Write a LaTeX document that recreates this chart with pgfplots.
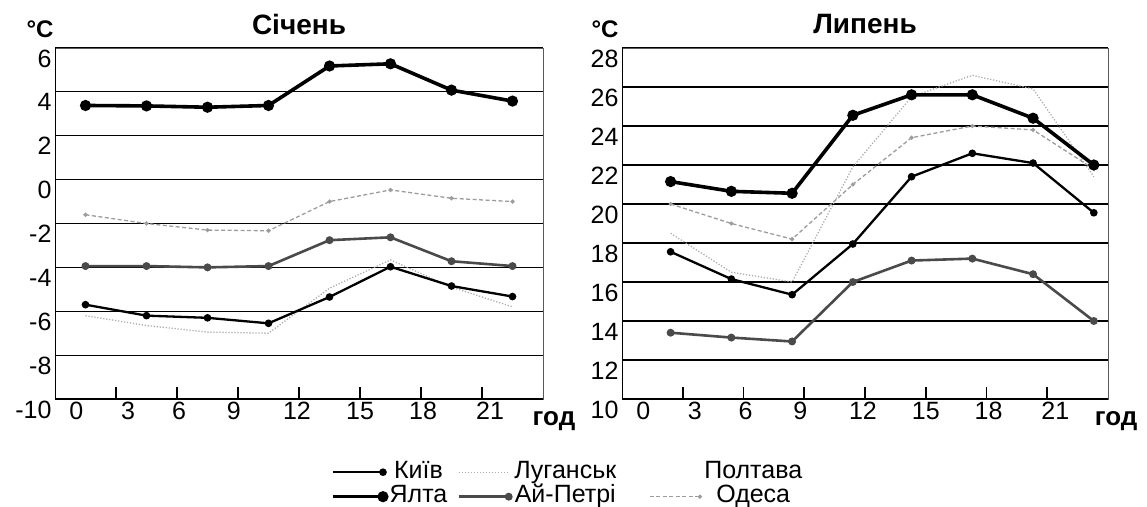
\documentclass[border=0pt]{standalone}
\usepackage{pgfplots}
\pgfplotsset{compat=1.18}
\usepackage{fontspec}
\setmainfont{Liberation Sans}

\definecolor{apgray}{HTML}{4A4A4A}
\definecolor{lugray}{HTML}{ABABAB}
\definecolor{odgray}{HTML}{9C9C9C}

\pgfplotsset{
  kyiv/.style={black, line width=2.3pt, mark=*, mark size=2.6pt},
  yalta/.style={black, line width=3.6pt, mark=*, mark size=3.7pt},
  aipetri/.style={apgray, line width=2.6pt, mark=*, mark size=2.6pt},
  luhansk/.style={lugray, line width=1.3pt, dash pattern=on 1.2pt off 1.8pt},
  odesa/.style={odgray, line width=1.3pt, dash pattern=on 4pt off 2.5pt, mark=*, mark size=1.4pt, mark options={solid}},
  panel/.style={
    scale only axis, height=351pt,
    xmin=0, xmax=24,
    axis line style={black!65, line width=0.9pt},
    ymajorgrids, grid style={black, line width=1.1pt},
    xtick={1.05,3.6,6.1,8.8,11.9,15.0,18.1,21.4},
    xticklabels={0,3,6,9,12,15,18,21},
    major tick length=0pt,
    xtick pos=left, ytick pos=left,
    extra x ticks={3,6,9,12,15,18,21},
    extra x tick labels={},
    extra x tick style={major tick length=12pt, tick align=inside,
      tick style={black, line width=1.6pt}},
    tick label style={font=\fontsize{25}{25}\selectfont},
    yticklabel style={yshift=-10.5pt},
  },
}

\begin{document}
\begin{tikzpicture}[x=1pt,y=1pt]
\path[use as bounding box] (0pt,0pt) rectangle (1147pt,-506pt);

% January
\begin{axis}[panel, at={(55pt,-399pt)}, anchor=south west, width=488pt,
  ymin=-10, ymax=6, ytick={-10,-8,...,6},
  yticklabels={-10,-8,-6,-4,-2,0,2,4,6},
  legend columns=3,
  legend image code/.code={\draw[mark repeat=2,mark phase=2,#1] plot coordinates {(0pt,0pt) (50pt,0pt)};},
  legend style={at={(0.5594,-0.1709)}, anchor=north west, draw=none, fill=none,
    font=\fontsize{25}{25}\selectfont, row sep=2.5pt,
    nodes={inner ysep=0pt, inner xsep=3pt, text height=17pt, text depth=5pt},
    /tikz/column 2/.style={column sep=7pt},
    /tikz/column 4/.style={column sep=30pt}},
]
\addplot[luhansk, forget plot] coordinates {(1.5,-6.2)(4.5,-6.65)(7.5,-6.95)(10.5,-7.0)(13.5,-4.95)(16.5,-3.66)(19.5,-4.9)(22.5,-5.8)};
\addplot[odesa, forget plot] coordinates {(1.5,-1.6)(4.5,-2.0)(7.5,-2.3)(10.5,-2.33)(13.5,-1.0)(16.5,-0.47)(19.5,-0.85)(22.5,-1.0)};
\addplot[aipetri, forget plot] coordinates {(1.5,-3.94)(4.5,-3.94)(7.5,-4.0)(10.5,-3.94)(13.5,-2.76)(16.5,-2.63)(19.5,-3.72)(22.5,-3.94)};
\addplot[kyiv, forget plot] coordinates {(1.5,-5.7)(4.5,-6.2)(7.5,-6.3)(10.5,-6.55)(13.5,-5.35)(16.5,-3.97)(19.5,-4.85)(22.5,-5.33)};
\addplot[yalta, forget plot] coordinates {(1.5,3.38)(4.5,3.36)(7.5,3.3)(10.5,3.38)(13.5,5.18)(16.5,5.28)(19.5,4.08)(22.5,3.58)};
% heavier left and bottom frame edges
\draw[black, line width=2pt] (rel axis cs:0,1) -- (rel axis cs:0,0) -- (rel axis cs:1,0);

\addlegendimage{kyiv}\addlegendentry{Київ}
\addlegendimage{luhansk}\addlegendentry{Луганськ}
\addlegendimage{empty legend}\addlegendentry{Полтава}
\addlegendimage{yalta}\addlegendentry{Ялта}
\addlegendimage{aipetri}\addlegendentry{Ай-Петрі}
\addlegendimage{odesa}\addlegendentry{Одеса}
\end{axis}

% July
\begin{axis}[panel, at={(622pt,-399pt)}, anchor=south west, width=486pt,
  ymin=10, ymax=28, ytick={10,12,...,28},
  yticklabels={10,12,14,16,18,20,22,24,26,28},
]
\addplot[luhansk] coordinates {(2.4,18.5)(5.4,16.5)(8.4,16.0)(11.4,21.9)(14.3,25.5)(17.3,26.6)(20.3,25.9)(23.3,21.4)};
\addplot[odesa] coordinates {(2.4,20.0)(5.4,19.0)(8.4,18.2)(11.4,21.0)(14.3,23.4)(17.3,24.0)(20.3,23.8)(23.3,21.8)};
\addplot[aipetri] coordinates {(2.4,13.4)(5.4,13.15)(8.4,12.95)(11.4,16.0)(14.3,17.1)(17.3,17.2)(20.3,16.4)(23.3,14.0)};
\addplot[kyiv] coordinates {(2.4,17.55)(5.4,16.15)(8.4,15.35)(11.4,17.95)(14.3,21.4)(17.3,22.6)(20.3,22.1)(23.3,19.55)};
\addplot[yalta] coordinates {(2.4,21.15)(5.4,20.65)(8.4,20.55)(11.4,24.55)(14.3,25.6)(17.3,25.6)(20.3,24.4)(23.3,22.0)};
\draw[black, line width=2pt] (rel axis cs:0,1) -- (rel axis cs:0,0) -- (rel axis cs:1,0);
\end{axis}

% titles and unit labels
\node[font=\fontsize{28}{28}\selectfont\bfseries] at (299pt,-24pt) {Січень};
\node[font=\fontsize{28}{28}\selectfont\bfseries] at (865pt,-24pt) {Липень};
\node[font=\fontsize{24}{24}\selectfont\bfseries] at (40pt,-29pt) {°C};
\node[font=\fontsize{24}{24}\selectfont\bfseries] at (605pt,-29pt) {°C};
\node[font=\fontsize{26}{26}\selectfont\bfseries, anchor=base] at (554pt,-425pt) {год};
\node[font=\fontsize{26}{26}\selectfont\bfseries, anchor=base] at (1116pt,-425pt) {год};
\end{tikzpicture}
\end{document}
